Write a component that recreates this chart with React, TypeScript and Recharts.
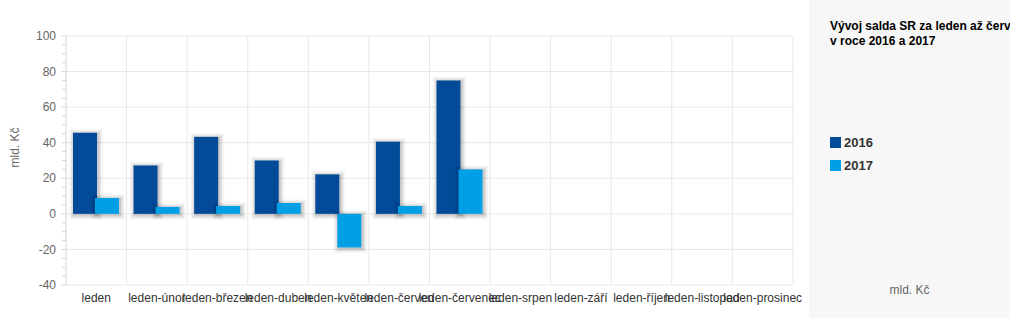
import React from 'react';
import {
  BarChart,
  Bar,
  XAxis,
  YAxis,
  CartesianGrid,
  Legend,
} from 'recharts';

const months = [
  'leden',
  'leden-únor',
  'leden-březen',
  'leden-duben',
  'leden-květen',
  'leden-červen',
  'leden-červenec',
  'leden-srpen',
  'leden-září',
  'leden-říjen',
  'leden-listopad',
  'leden-prosinec',
];

const saldo2016 = [45.6, 27.2, 43.3, 30.0, 22.2, 40.6, 75.0, null, null, null, null, null];
const saldo2017 = [8.9, 3.9, 4.4, 6.1, -18.9, 4.4, 25.0, null, null, null, null, null];

const majorTicks = [-40, -20, 0, 20, 40, 60, 80, 100];
const minorTicks = Array.from({ length: 29 }, (_, i) => -40 + i * 5);

const title = ['Vývoj salda SR za leden až červenec', 'v roce 2016 a 2017'];
const unit = 'mld. Kč';

const COLOR_2016 = '#034a99';
const COLOR_2017 = '#009fe6';

const data = months.map((m, i) => ({
  month: m,
  y2016: saldo2016[i],
  y2017: saldo2017[i],
}));

const FONT = '"Liberation Sans", Arial, sans-serif';
const SHADOW_STEPS = [1, 2, 3, 4, 5, 6];

function YTick(props: any) {
  const { x, y, payload } = props;
  const v = payload.value as number;
  const major = v % 20 === 0;
  return (
    <g>
      <line x1={x - (major ? 5 : 4)} x2={x} y1={y} y2={y} stroke="#d8d8d8" />
      {major && (
        <text
          x={x - 10}
          y={y}
          dy="0.35em"
          textAnchor="end"
          fontSize={12}
          fill="#666"
          fontFamily={FONT}
        >
          {v}
        </text>
      )}
    </g>
  );
}

function YLabel(props: any) {
  const { viewBox } = props;
  const cx = viewBox.x + 15;
  const cy = viewBox.y + viewBox.height / 2 - 13;
  return (
    <text
      x={cx}
      y={cy}
      dy="0.35em"
      textAnchor="middle"
      transform={`rotate(-90 ${cx} ${cy})`}
      fontSize={12}
      fill="#666"
      fontFamily={FONT}
    >
      {unit}
    </text>
  );
}

// bar with a soft shadow made of stacked translucent strokes
function ShadowBar(props: any) {
  const { x, y, width, height, fill } = props;
  if (width == null || height == null || !height) return <g />;
  const top = height < 0 ? y + height : y;
  const h = Math.abs(height);
  const n = SHADOW_STEPS.length;
  return (
    <g>
      {SHADOW_STEPS.map((i) => (
        <rect
          key={i}
          x={x}
          y={top}
          width={width}
          height={h}
          fill="none"
          stroke="#000"
          strokeOpacity={0.012 * i / (n / 6)}
          strokeWidth={n * 2 + 1 - 2 * i}
          transform="translate(1,1)"
        />
      ))}
      <rect x={x} y={top} width={width} height={h} fill={fill} />
    </g>
  );
}

function Panel() {
  const items = [
    { label: '2016', color: COLOR_2016 },
    { label: '2017', color: COLOR_2017 },
  ];
  return (
    <div
      style={{
        position: 'relative',
        width: 201,
        height: 318,
        background: '#f7f7f7',
        overflow: 'hidden',
        fontFamily: FONT,
      }}
    >
      <div
        style={{
          position: 'absolute',
          left: 21,
          top: 19,
          fontSize: 12,
          lineHeight: '15px',
          fontWeight: 'bold',
          color: '#000',
          whiteSpace: 'nowrap',
        }}
      >
        {title.map((t) => (
          <div key={t}>{t}</div>
        ))}
      </div>
      {items.map((it, i) => (
        <div
          key={it.label}
          style={{
            position: 'absolute',
            left: 21,
            top: 134 + i * 23,
            display: 'flex',
            alignItems: 'center',
            fontSize: 13,
            fontWeight: 'bold',
            color: '#333',
            height: 17,
          }}
        >
          <span
            style={{
              display: 'inline-block',
              width: 11,
              height: 11,
              background: it.color,
              marginRight: 3,
            }}
          />
          {it.label}
        </div>
      ))}
      <div
        style={{
          position: 'absolute',
          left: 0,
          width: 201,
          top: 283,
          textAlign: 'center',
          fontSize: 12,
          color: '#666',
        }}
      >
        {unit}
      </div>
    </div>
  );
}

export default function App() {
  return (
    <div
      style={{
        position: 'absolute',
        left: 0,
        top: 0,
        width: 1010,
        height: 320,
        overflow: 'hidden',
        background: '#fff',
        fontFamily: FONT,
      }}
    >
      <BarChart
        width={1010}
        height={320}
        data={data}
        margin={{ top: 36, right: 16, bottom: 0, left: 0 }}
        barSize={24}
        barGap={-2}
      >
        <CartesianGrid
          stroke="#e8e8e8"
          horizontalValues={majorTicks}
          verticalCoordinatesGenerator={({ offset }: any) =>
            Array.from({ length: months.length + 1 }, (_, i) => offset.left + (i * offset.width) / months.length)
          }
          vertical
        />
        <XAxis
          dataKey="month"
          interval={0}
          height={35}
          axisLine={false}
          tickLine={false}
          tickSize={0}
          tickMargin={8}
          tick={{ fontSize: 12, fill: '#333', fontFamily: FONT }}
        />
        <YAxis
          width={66}
          domain={[-40, 100]}
          ticks={minorTicks}
          interval={0}
          allowDataOverflow
          axisLine={{ stroke: '#e0e0e0' }}
          tickLine={false}
          tickSize={0}
          tickMargin={0}
          tick={<YTick />}
          label={<YLabel />}
        />
        <Legend
          layout="vertical"
          align="right"
          verticalAlign="middle"
          content={() => <Panel />}
          wrapperStyle={{ left: 809, top: 0, right: 'auto', width: 201, height: 318 }}
        />
        <Bar
          dataKey="y2016"
          name="2016"
          fill={COLOR_2016}
          shape={ShadowBar}
          isAnimationActive={false}
        />
        <Bar
          dataKey="y2017"
          name="2017"
          fill={COLOR_2017}
          shape={ShadowBar}
          isAnimationActive={false}
        />
      </BarChart>
    </div>
  );
}
